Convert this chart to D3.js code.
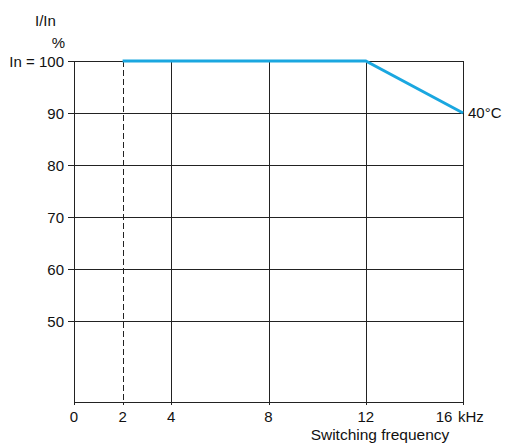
<!DOCTYPE html>
<html>
<head>
<meta charset="utf-8">
<script src="https://cdn.jsdelivr.net/npm/d3@7"></script>
<style>
  html, body { margin: 0; padding: 0; background: #fff; }
  svg { display: block; }
  text { font-family: Arial, "Liberation Sans", Helvetica, sans-serif; fill: #111; }
</style>
</head>
<body>
<svg id="chart" width="506" height="443"></svg>
<script>
// ---- data ----
const xTicks = [0, 2, 4, 8, 12, 16];
const xTickLabels = ["0", "2", "4", "8", "12", "16"];
const xSolidGrid = [4, 8, 12, 16];
const xDashed = [2];
const yTicks = [50, 60, 70, 80, 90, 100];
const yTickLabels = ["50", "60", "70", "80", "90", "In = 100"];
const xDomain = [0, 16];
const yDomain = [34.4, 100];
const curveFreq = [2, 12, 16];
const curveCurrent = [100, 100, 90];
const curveLabel = "40°C";

// ---- layout ----
const svg = d3.select("#chart");
const x = d3.scaleLinear().domain(xDomain).range([74, 463]);
const y = d3.scaleLinear().domain(yDomain).range([402, 61]);
const stroke = "#222";

// horizontal grid lines with left ticks
svg.append("g").selectAll("line").data(yTicks).join("line")
  .attr("x1", x(0) - 6).attr("x2", x(16))
  .attr("y1", d => Math.round(y(d)) + 0.5).attr("y2", d => Math.round(y(d)) + 0.5)
  .attr("stroke", stroke).attr("stroke-width", 1);

// vertical solid grid lines (extend below as ticks)
svg.append("g").selectAll("line").data([0].concat(xSolidGrid)).join("line")
  .attr("x1", d => Math.round(x(d)) + 0.5).attr("x2", d => Math.round(x(d)) + 0.5)
  .attr("y1", y(100)).attr("y2", y(yDomain[0]) + 3)
  .attr("stroke", stroke).attr("stroke-width", 1);

// dashed line at 2 kHz
svg.append("g").selectAll("line").data(xDashed).join("line")
  .attr("x1", d => Math.round(x(d)) + 0.5).attr("x2", d => Math.round(x(d)) + 0.5)
  .attr("y1", y(100)).attr("y2", y(yDomain[0]) + 3)
  .attr("stroke", stroke).attr("stroke-width", 1)
  .attr("stroke-dasharray", "6,3");

// x axis baseline
svg.append("line")
  .attr("x1", x(0)).attr("x2", x(16))
  .attr("y1", Math.round(y(yDomain[0])) + 0.5).attr("y2", Math.round(y(yDomain[0])) + 0.5)
  .attr("stroke", stroke).attr("stroke-width", 1);

// y tick labels
svg.append("g").selectAll("text").data(yTicks).join("text")
  .attr("x", 64).attr("y", d => y(d) + 6)
  .attr("text-anchor", "end").attr("font-size", 15)
  .text((d, i) => yTickLabels[i]);

// x tick labels
svg.append("g").selectAll("text").data(xTicks).join("text")
  .attr("x", d => d === 16 ? x(d) - 19 : x(d))
  .attr("y", 422)
  .attr("text-anchor", "middle").attr("font-size", 15)
  .text((d, i) => xTickLabels[i]);

svg.append("text").attr("x", 458).attr("y", 422)
  .attr("font-size", 15).text("kHz");

svg.append("text").attr("x", 380).attr("y", 440)
  .attr("text-anchor", "middle").attr("font-size", 15.5).text("Switching frequency");

// y axis title
svg.append("text").attr("x", 35).attr("y", 26).attr("font-size", 15).text("I/In");
svg.append("text").attr("x", 65).attr("y", 48).attr("text-anchor", "end").attr("font-size", 15).text("%");

// curve
const pts = curveFreq.map((f, i) => [x(f), y(curveCurrent[i])]);
svg.append("path")
  .attr("d", d3.line()(pts))
  .attr("fill", "none").attr("stroke", "#1aa7e0").attr("stroke-width", 3)
  .attr("stroke-linejoin", "miter");

svg.append("text")
  .attr("x", x(curveFreq[curveFreq.length - 1]) + 5)
  .attr("y", y(curveCurrent[curveCurrent.length - 1]) + 5)
  .attr("font-size", 15).text(curveLabel);
</script>
</body>
</html>
